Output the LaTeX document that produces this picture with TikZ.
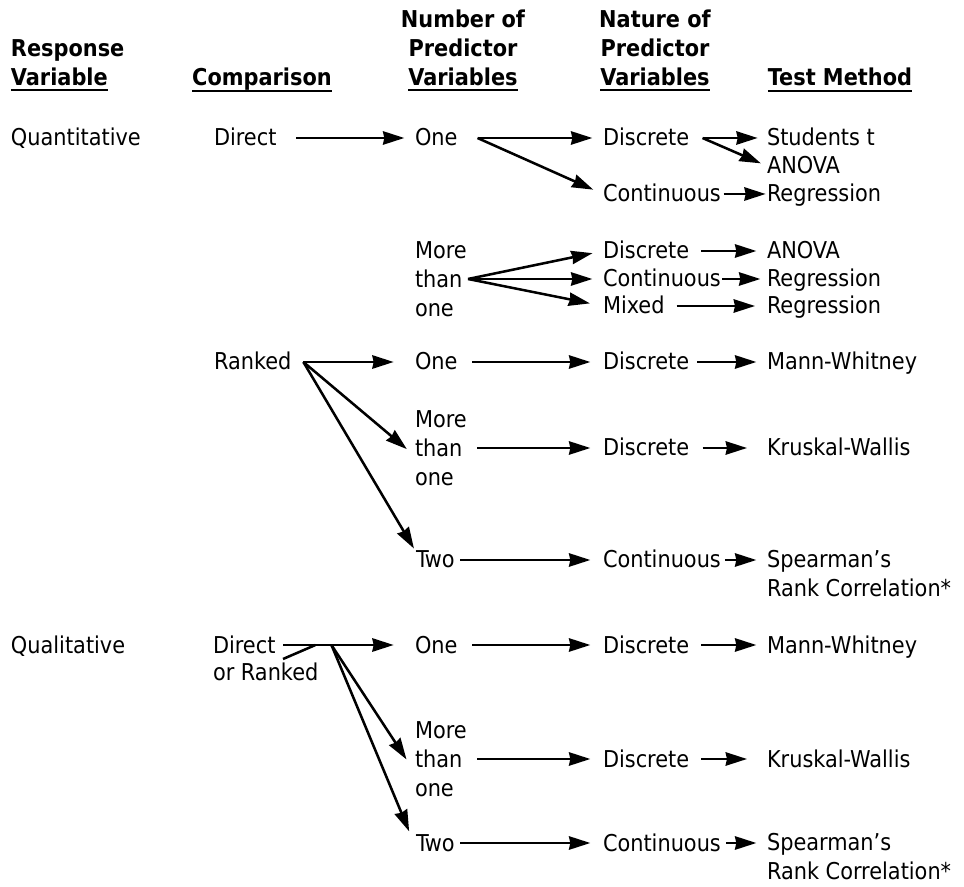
\documentclass[tikz,border=0pt]{standalone}
\usepackage{fontspec}
\setmainfont{DejaVu Sans Condensed}[BoldFont={DejaVu Sans Condensed Bold}]
\usetikzlibrary{arrows.meta}

% underlined last line of a column heading
\newcommand{\hdrule}[1]{\setbox0=\hbox{#1}\rlap{\copy0}\smash{\rule[-4.2pt]{\wd0}{1.5pt}}}

\tikzset{
  lbl/.style={anchor=west, inner sep=0pt, outer sep=0pt, text height=12pt, text depth=0pt},
  multi/.style={anchor=west, inner sep=0pt, outer sep=0pt, align=left},
  hdr/.style={inner sep=0pt, outer sep=0pt, align=center, font=\bfseries},
  arr/.style={line width=1.9pt, -{Stealth[length=16pt, width=10pt, inset=1pt]}, shorten >=8pt},
  seg/.style={line width=1.9pt}
}

\begin{document}
\fontsize{17.4}{21.75}\selectfont
\begin{tikzpicture}[x=0.75pt, y=-0.75pt]
    \useasboundingbox (0, 0) rectangle (964, 887);

    % column headings
    \node (hdresp) at (11, 62.5) [hdr, align=left, anchor=west] {Response\\\hdrule{Variable}};
    \node (hdcomp) at (262, 86) [hdr, anchor=base] {\hdrule{Comparison}};
    \node (hdnum)  at (463, 48) [hdr] {Number of\\Predictor\\\hdrule{Variables}};
    \node (hdnat)  at (655, 48) [hdr] {Nature of\\Predictor\\\hdrule{Variables}};
    \node (hdtest) at (840, 86) [hdr, anchor=base] {\hdrule{Test Method}};

    % quantitative, direct
    \node (quant)  at (11, 138)  [lbl] {Quantitative};
    \node (direct) at (214, 138) [lbl] {Direct};
    \node (one1)   at (415, 138) [lbl] {One};
    \node (disc1)  at (603, 138) [lbl] {Discrete};
    \node (cont1)  at (603, 194) [lbl] {Continuous};
    \node (stud)   at (767, 138) [lbl] {Students t};
    \node (anova1) at (767, 166) [lbl] {ANOVA};
    \node (regr1)  at (767, 194) [lbl] {Regression};

    \node (more1)  at (415, 279) [multi] {More\\than\\one};
    \node (disc2)  at (603, 251) [lbl] {Discrete};
    \node (cont2)  at (603, 279) [lbl] {Continuous};
    \node (mixed)  at (603, 306) [lbl] {Mixed};
    \node (anova2) at (767, 251) [lbl] {ANOVA};
    \node (regr2)  at (767, 279) [lbl] {Regression};
    \node (regr3)  at (767, 306) [lbl] {Regression};

    % quantitative, ranked
    \node (ranked) at (214, 362) [lbl] {Ranked};
    \node (one2)   at (415, 362) [lbl] {One};
    \node (disc3)  at (603, 362) [lbl] {Discrete};
    \node (mann1)  at (767, 362) [lbl] {Mann-Whitney};
    \node (more2)  at (415, 448) [multi] {More\\than\\one};
    \node (disc4)  at (603, 448) [lbl] {Discrete};
    \node (krus1)  at (767, 448) [lbl] {Kruskal-Wallis};
    \node (two1)   at (416, 560) [lbl] {Two};
    \node (cont3)  at (603, 560) [lbl] {Continuous};
    \node (spear1) at (767, 574) [multi] {Spearman's\\Rank Correlation*};

    % qualitative
    \node (qual)   at (11, 645)  [lbl] {Qualitative};
    \node (dir2)   at (213, 645) [lbl] {Direct};
    \node (orrank) at (213, 672) [lbl] {or Ranked};
    \node (one3)   at (415, 645) [lbl] {One};
    \node (disc5)  at (603, 645) [lbl] {Discrete};
    \node (mann2)  at (767, 645) [lbl] {Mann-Whitney};
    \node (more3)  at (415, 759) [multi] {More\\than\\one};
    \node (disc6)  at (603, 759) [lbl] {Discrete};
    \node (krus2)  at (767, 759) [lbl] {Kruskal-Wallis};
    \node (two2)   at (416, 843) [lbl] {Two};
    \node (cont4)  at (603, 843) [lbl] {Continuous};
    \node (spear2) at (767, 857) [multi] {Spearman's\\Rank Correlation*};

    % branch points
    \coordinate (f1) at ([xshift=15pt]one1.east);
    \coordinate (f2) at ([xshift=10pt]disc1.east);
    \coordinate (f3) at ([xshift=1pt]more1.east);
    \coordinate (f4) at ([xshift=9pt]ranked.east);
    \coordinate (f5) at ([xshift=42pt]dir2.east);
    \coordinate (merge) at ([xshift=30pt]dir2.east);
    \coordinate (tick) at (283, 659);

    \draw[arr] ([xshift=15pt]direct.east) -- (one1.west);
    \draw[arr] (f1) -- (disc1.west);
    \draw[arr] (f1) -- (cont1.west);
    \draw[arr, shorten >=7pt] (f2) -- (stud.west);
    \draw[arr, shorten >=5pt] (f2) -- (anova1.west);
    \draw[arr, shorten >=1pt] ([xshift=2pt]cont1.east) -- (regr1.west);

    \draw[arr] (f3) -- (disc2.west);
    \draw[arr] (f3) -- (cont2.west);
    \draw[arr, shorten >=10pt] (f3) -- (mixed.west);
    \draw[arr] ([xshift=9pt]disc2.east) -- (anova2.west);
    \draw[arr, shorten >=5pt] ([xshift=1pt]cont2.east) -- (regr2.west);
    \draw[arr, shorten >=9pt] ([xshift=9pt]mixed.east) -- (regr3.west);

    \draw[arr, shorten >=16pt] (f4) -- (one2.west);
    \draw[arr] (f4) -- ([yshift=-6pt]more2.west);
    \draw[arr, shorten >=3pt] (f4) -- (two1.north west);
    \draw[arr, shorten >=9.5pt] ([xshift=11pt]one2.east) -- (disc3.west);
    \draw[arr, shorten >=9.5pt] ([xshift=8pt]more2.east) -- (disc4.west);
    \draw[arr, shorten >=9.5pt] ([xshift=4pt]two1.east) -- (cont3.west);
    \draw[arr] ([xshift=6pt]disc3.east) -- (mann1.west);
    \draw[arr, shorten >=15pt] ([xshift=10pt]disc4.east) -- (krus1.west);
    \draw[arr] ([xshift=3pt]cont3.east) -- (cont3.east -| spear1.west);

    \draw[seg] ([xshift=6pt]dir2.east) -- (f5);
    \draw[seg] (tick) -- (merge);
    \draw[arr, shorten >=16pt] (f5) -- (one3.west);
    \draw[arr] (f5) -- ([xshift=-2pt, yshift=-7pt]more3.west);
    \draw[arr, shorten >=3pt] (f5) -- ([xshift=-4pt]two2.north west);
    \draw[arr, shorten >=9.5pt] ([xshift=11pt]one3.east) -- (disc5.west);
    \draw[arr, shorten >=9.5pt] ([xshift=8pt]more3.east) -- (disc6.west);
    \draw[arr, shorten >=9.5pt] ([xshift=4pt]two2.east) -- (cont4.west);
    \draw[arr] ([xshift=9pt]disc5.east) -- (mann2.west);
    \draw[arr, shorten >=15pt] ([xshift=9pt]disc6.east) -- (krus2.west);
    \draw[arr] ([xshift=4pt]cont4.east) -- (cont4.east -| spear2.west);
\end{tikzpicture}
\end{document}
